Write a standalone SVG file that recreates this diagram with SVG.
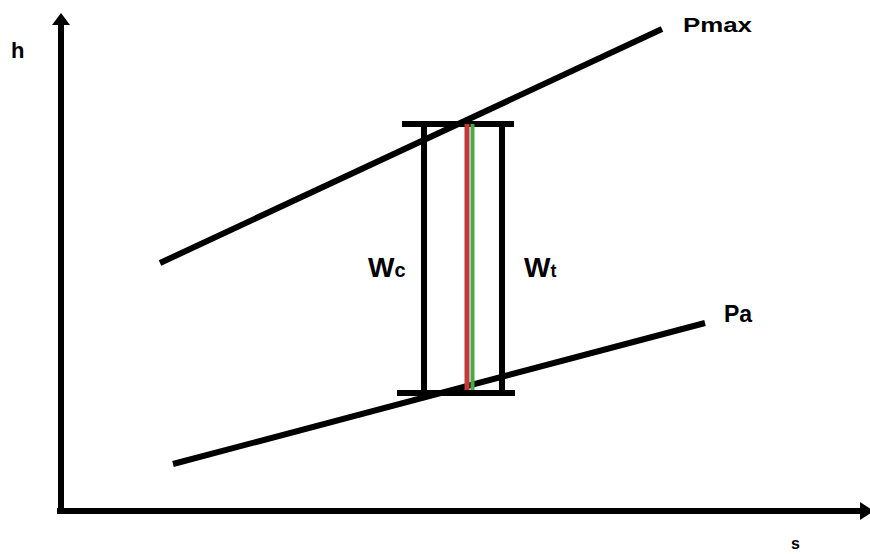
<svg xmlns="http://www.w3.org/2000/svg" width="870" height="554" viewBox="0 0 870 554">
<style>
.ln{stroke:#000;stroke-width:6;fill:none;stroke-linecap:butt}
.t{font-family:"Liberation Sans",Arial,sans-serif;font-weight:bold;fill:#000}
</style>
<rect width="870" height="554" fill="#fff"/>
<g id="connectors">
<path class="ln" d="M61,511 V22" stroke-width="7"/>
<path class="ln" d="M57,511 H862" stroke-width="7"/>
<polygon points="52,25 70,25 61,13"/>
<polygon points="860,502 860,520 874,511"/>
<path class="ln" d="M160,263 L662,29"/>
<path class="ln" d="M173,464 L705,323"/>
</g>
<g id="bars">
<path class="ln" d="M402,124 H514"/>
<path class="ln" d="M397,393 H515"/>
<path class="ln" d="M424,124 V393"/>
<path class="ln" d="M502,124 V393"/>
<path d="M467,124 V390" stroke="#c0393b" stroke-width="5"/>
<path d="M472.5,124 V390" stroke="#4aa84a" stroke-width="4"/>
</g>
<g id="labels">
<text class="t" x="11" y="58" font-size="22">h</text>
<text class="t" x="683" y="32" font-size="20" textLength="69" lengthAdjust="spacingAndGlyphs">Pmax</text>
<text class="t" x="724" y="322" font-size="23">Pa</text>
<text class="t" x="368" y="277" font-size="28">W<tspan font-size="20">c</tspan></text>
<text class="t" x="524" y="277" font-size="28">W<tspan font-size="18">t</tspan></text>
<text class="t" x="791" y="549" font-size="16">s</text>
</g>
</svg>
